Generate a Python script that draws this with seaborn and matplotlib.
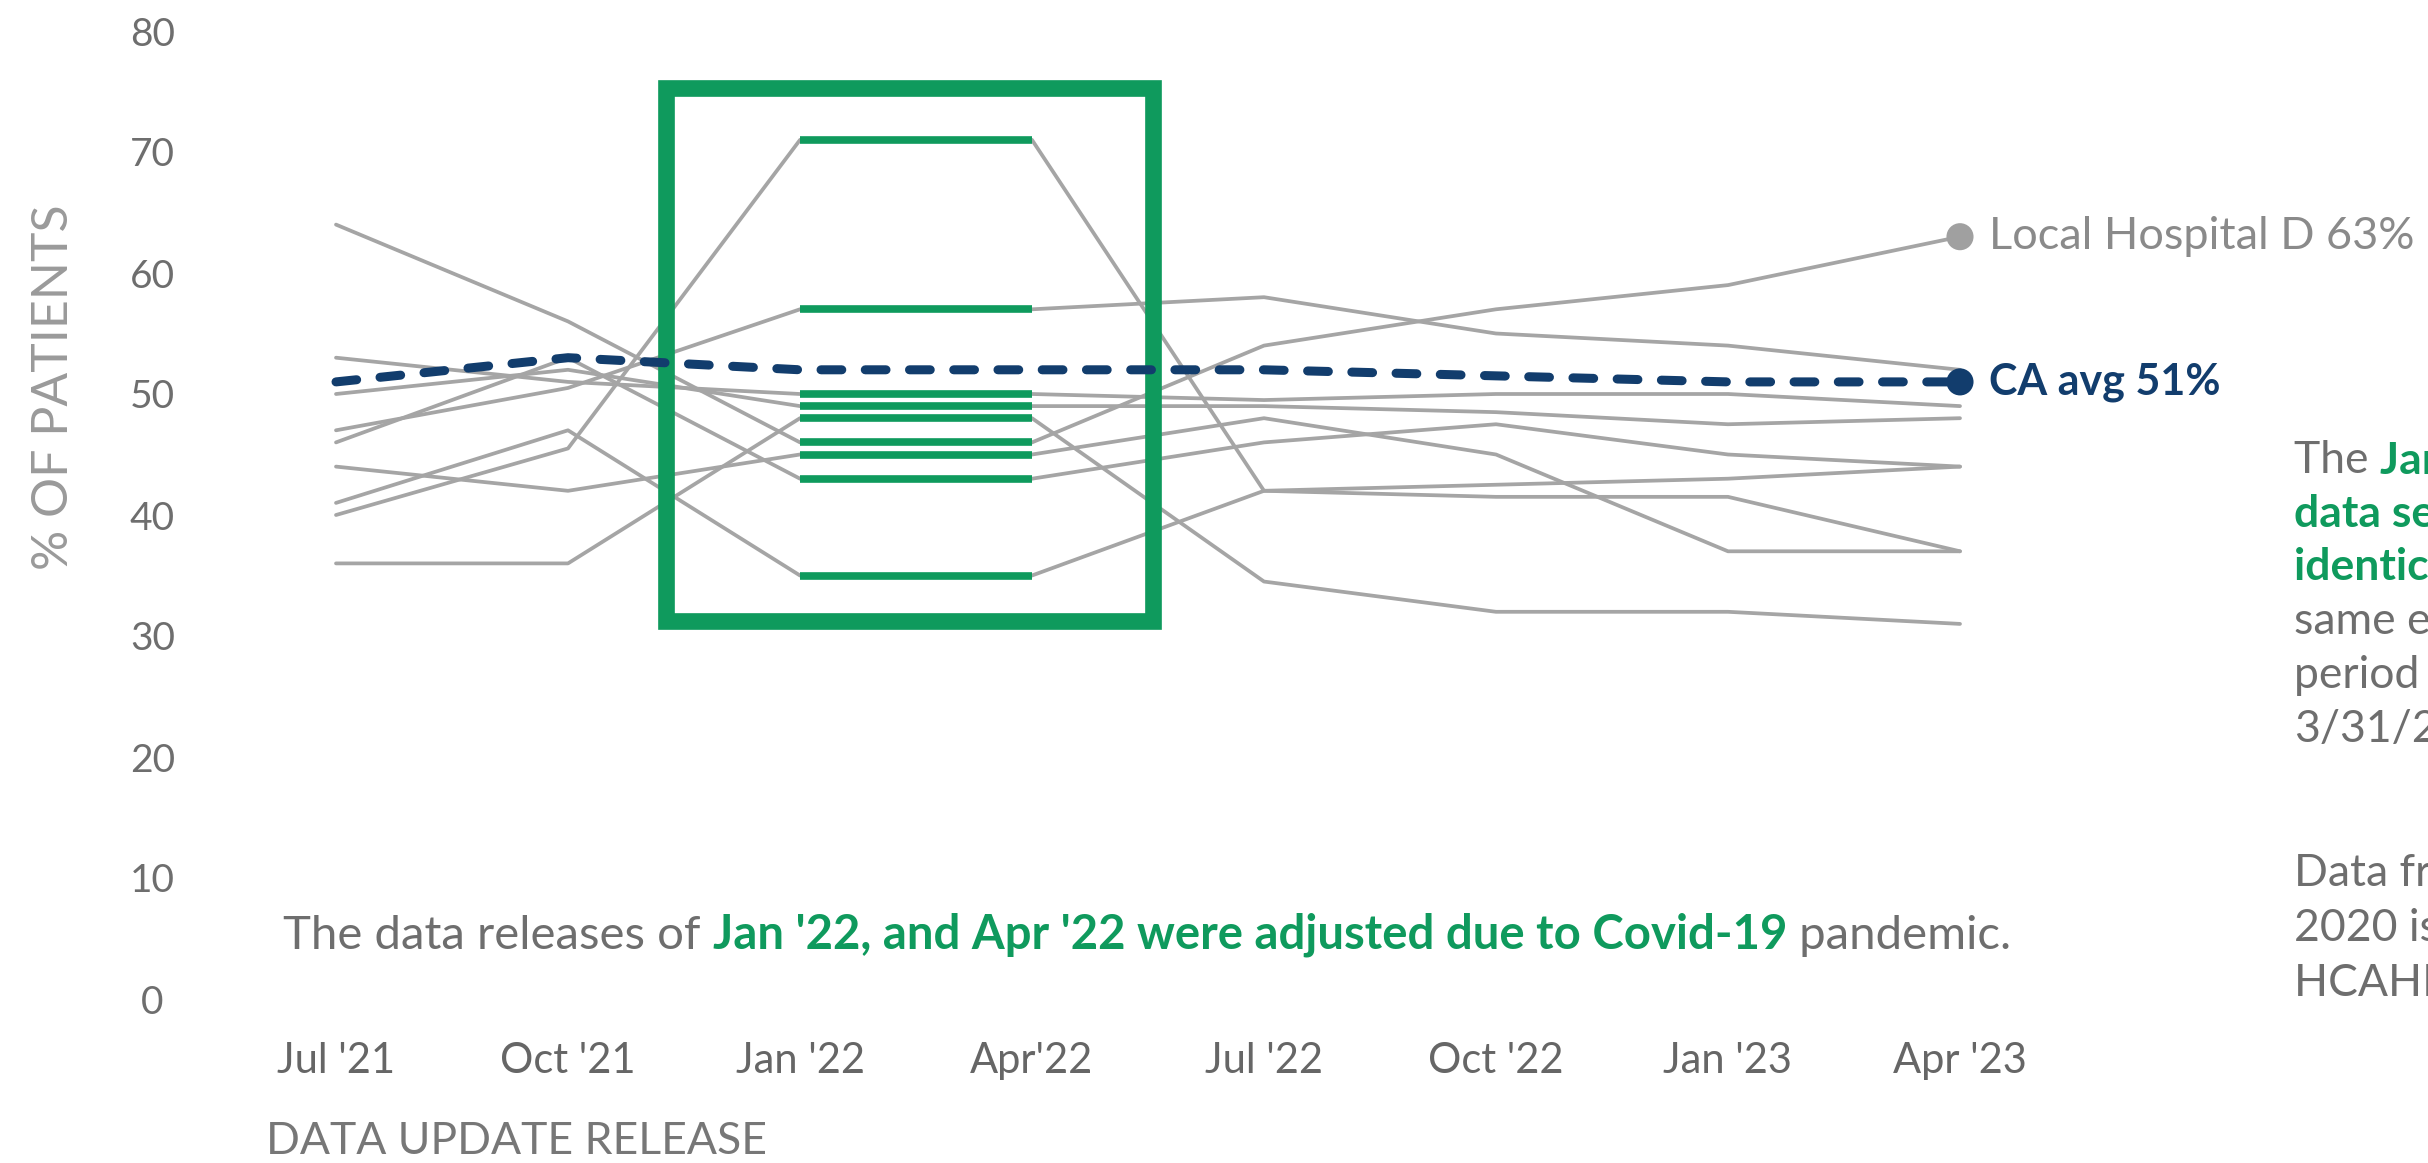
import matplotlib
matplotlib.use("Agg")
import matplotlib.pyplot as plt
from matplotlib.patches import Rectangle
import numpy as np
import pandas as pd
import seaborn as sns

# ---------------- data ----------------
quarters = ["Jul '21", "Oct '21", "Jan '22", "Apr'22", "Jul '22", "Oct '22", "Jan '23", "Apr '23"]
y_ticks = [0, 10, 20, 30, 40, 50, 60, 70, 80]

local_hospital_d = [64, 56, 46, 46, 54, 57, 59, 63]
hospital_b = [47, 50.5, 57, 57, 58, 55, 54, 52]
hospital_c = [40, 45.5, 71, 71, 42, 42.5, 43, 44]
hospital_e = [41, 47, 35, 35, 42, 41.5, 41.5, 37]
hospital_f = [44, 42, 45, 45, 48, 45, 37, 37]
hospital_g = [53, 51, 50, 50, 49.5, 50, 50, 49]
hospital_h = [50, 52, 49, 49, 49, 48.5, 47.5, 48]
hospital_i = [46, 53, 43, 43, 46, 47.5, 45, 44]
hospital_j = [36, 36, 48, 48, 34.5, 32, 32, 31]
ca_avg = [51, 53, 52, 52, 52, 51.5, 51, 51]

hospitals = {
    "Local Hospital D": local_hospital_d,
    "Hospital B": hospital_b,
    "Hospital C": hospital_c,
    "Hospital E": hospital_e,
    "Hospital F": hospital_f,
    "Hospital G": hospital_g,
    "Hospital H": hospital_h,
    "Hospital I": hospital_i,
    "Hospital J": hospital_j,
}
adjusted_releases = ["Jan '22", "Apr'22"]

# ---------------- styling ----------------
GRAY = "#a5a5a5"
TXT = "#6e6e6e"
NAVY = "#123d6d"
GREEN = "#0f9a5d"

sns.set_theme(style="white")
plt.rcParams["font.family"] = ["Lato", "DejaVu Sans"]

W, H = 2428, 1163
fig = plt.figure(figsize=(W / 100, H / 100), dpi=100)

# pixel layout of the reference
X0, DX = 336, 232          # px of first quarter, px per quarter
Y0, DY = 999, 12.1         # px of value 0, px per unit
ax_left, ax_right, ax_top, ax_bottom = 240, 2060, 20, 1030
ax = fig.add_axes([ax_left / W, (H - ax_bottom) / H,
                   (ax_right - ax_left) / W, (ax_bottom - ax_top) / H])
ax.set_xlim((ax_left - X0) / DX, (ax_right - X0) / DX)
ax.set_ylim((Y0 - ax_bottom) / DY, (Y0 - ax_top) / DY)

xpos = np.arange(len(quarters))
rows = []
for name, vals in hospitals.items():
    for q, x, v in zip(quarters, xpos, vals):
        rows.append({"hospital": name, "quarter": q, "x": x, "value": v})
df = pd.DataFrame(rows)

# gray hospital lines
sns.lineplot(data=df, x="x", y="value", hue="hospital",
             palette=[GRAY] * len(hospitals), linewidth=2.7, legend=False,
             errorbar=None, ax=ax, zorder=2)

# adjusted releases highlighted in green
adj = df[df["quarter"].isin(adjusted_releases)]
sns.lineplot(data=adj, x="x", y="value", hue="hospital",
             palette=[GREEN] * len(hospitals), linewidth=5.5, legend=False,
             errorbar=None, ax=ax, zorder=3, solid_capstyle="butt")

# green box around adjusted releases
box = Rectangle((1.422, 31.2), 3.52 - 1.422, 75.3 - 31.2, fill=False,
                edgecolor=GREEN, linewidth=12, zorder=4, clip_on=False)
ax.add_patch(box)

# CA average dashed line
ca_df = pd.DataFrame({"x": xpos, "value": ca_avg})
sns.lineplot(data=ca_df, x="x", y="value", color=NAVY, linewidth=6.5,
             linestyle=(0, (2.3, 2.6)), dash_capstyle="round",
             errorbar=None, ax=ax, zorder=5)

# end markers
sns.scatterplot(x=[xpos[-1]], y=[local_hospital_d[-1]], color="#a0a0a0",
                s=380, edgecolor="none", ax=ax, zorder=6)
sns.scatterplot(x=[xpos[-1]], y=[ca_avg[-1]], color=NAVY,
                s=380, edgecolor="none", ax=ax, zorder=6)

ax.annotate(f"Local Hospital D {local_hospital_d[-1]:.0f}%",
            xy=(xpos[-1], local_hospital_d[-1]), xytext=(21, 0),
            textcoords="offset points", va="center", ha="left",
            fontsize=32.5, color="#8a8a8a", annotation_clip=False)
ax.annotate(f"CA avg {ca_avg[-1]:.0f}%",
            xy=(xpos[-1], ca_avg[-1]), xytext=(21, 0),
            textcoords="offset points", va="center", ha="left",
            fontsize=31, color=NAVY, fontweight="bold", annotation_clip=False)

# axes, ticks
for s in ax.spines.values():
    s.set_visible(False)
ax.set_xticks(xpos)
ax.set_xticklabels(quarters)
ax.set_yticks(y_ticks)
ax.set_yticklabels([str(t) for t in y_ticks])
ax.tick_params(axis="x", length=0, pad=22.5, labelsize=30, labelcolor="#666666")
ax.tick_params(axis="y", length=0, pad=63, labelsize=28, labelcolor=TXT)
for lab in ax.get_xticklabels():
    lab.set_verticalalignment("center")
for lab in ax.get_yticklabels():
    lab.set_horizontalalignment("center")
ax.set_xlabel("")
ax.set_ylabel("")
ax.grid(False)

fig.text(54 / W, 1 - 387 / H, "% OF PATIENTS", rotation=90, ha="center",
         va="center", fontsize=36, color="#9a9a9a")
fig.text(266 / W, 1 - 1141 / H, "DATA UPDATE RELEASE", ha="left",
         va="center", fontsize=32, color="#777777")

# note under the chart, mixed styling
t1 = fig.text(283 / W, 1 - 949 / H, "The data releases of ", ha="left",
              va="baseline", fontsize=34, color=TXT)
t2 = ax.annotate("Jan '22, and Apr '22 were adjusted due to Covid-19",
                 xy=(1, 0), xycoords=t1, va="bottom", ha="left",
                 fontsize=34, color=GREEN, fontweight="bold")
t3 = ax.annotate(" pandemic.", xy=(1, 0), xycoords=t2, va="bottom",
                 ha="left", fontsize=34, color=TXT)

# side notes (cut by the right edge, as in the reference)
side_x = 2294 / W
SIDE_FS = 32
l1 = fig.text(side_x, 1 - 473 / H, "The ", ha="left", va="baseline",
              fontsize=SIDE_FS, color=TXT)
ax.annotate("Jan '22 and Apr '22", xy=(1, 0), xycoords=l1, va="bottom",
            ha="left", fontsize=SIDE_FS, color=GREEN, fontweight="bold")
side_lines = [
    ("data sets are", 527, GREEN, "bold"),
    ("identical and cover the", 580, GREEN, "bold"),
    ("same encounter", 634, TXT, "normal"),
    ("period 10/1/2019 -", 688, TXT, "normal"),
    ("3/31/2020.", 742, TXT, "normal"),
    ("Data from Q1 and Q2", 885, TXT, "normal"),
    ("2020 is excluded from", 941, TXT, "normal"),
    ("HCAHPS reporting.", 996, TXT, "normal"),
]
for txt, yb, col, wt in side_lines:
    fig.text(side_x, 1 - yb / H, txt, ha="left", va="baseline",
             fontsize=SIDE_FS, color=col, fontweight=wt)

fig.savefig("out.png", dpi=100, facecolor="white")
